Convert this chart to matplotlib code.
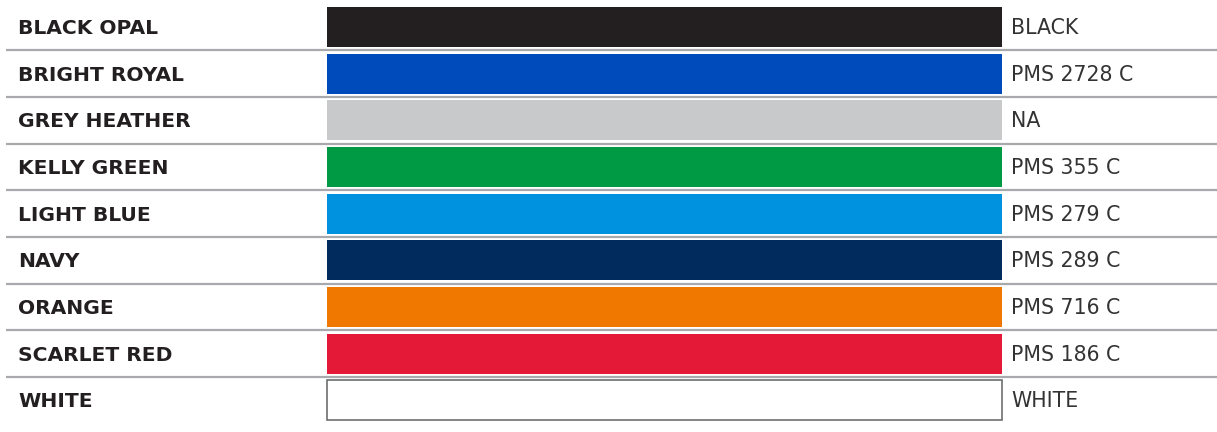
import matplotlib.pyplot as plt

# ===== データ =====
names = ["BLACK OPAL", "BRIGHT ROYAL", "GREY HEATHER", "KELLY GREEN", "LIGHT BLUE",
         "NAVY", "ORANGE", "SCARLET RED", "WHITE"]
pms = ["BLACK", "PMS 2728 C", "NA", "PMS 355 C", "PMS 279 C",
       "PMS 289 C", "PMS 716 C", "PMS 186 C", "WHITE"]
colors = ["#231f20", "#004bbb", "#c8c9cb", "#009a44", "#0092de",
          "#002b5c", "#f07800", "#e31937", "#ffffff"]

W, H = 1217, 432
pitch = 46.67          # row height in px
first = 27.0           # centre of first row in px

fig = plt.figure(figsize=(W / 100, H / 100), dpi=100)
ax = fig.add_axes([0, 0, 1, 1])
ax.set_xlim(0, W)
ax.set_ylim((H - first) / pitch, -first / pitch)
ax.axis("off")

rows = list(range(len(names)))
ax.barh(rows, [675] * len(rows), left=327, height=40 / pitch, color=colors,
        edgecolor=["none"] * (len(rows) - 1) + ["#6d6e71"], linewidth=1.2)

# 区切り線
for r in rows[:-1]:
    ax.plot([6, W], [r + 0.5, r + 0.5], color="#a7a9ac", lw=1.6,
            solid_capstyle="butt")

txt = "#231f20"
off = 7.0 / pitch
for r, n, p in zip(rows, names, pms):
    ax.text(18, r + off, n, fontsize=14.6, fontweight="bold", color=txt,
            va="baseline", ha="left", family="DejaVu Sans")
    ax.text(1011, r + off, p, fontsize=14.8, color="#333333",
            va="baseline", ha="left", family="DejaVu Sans")

fig.savefig("out.png", dpi=100)
